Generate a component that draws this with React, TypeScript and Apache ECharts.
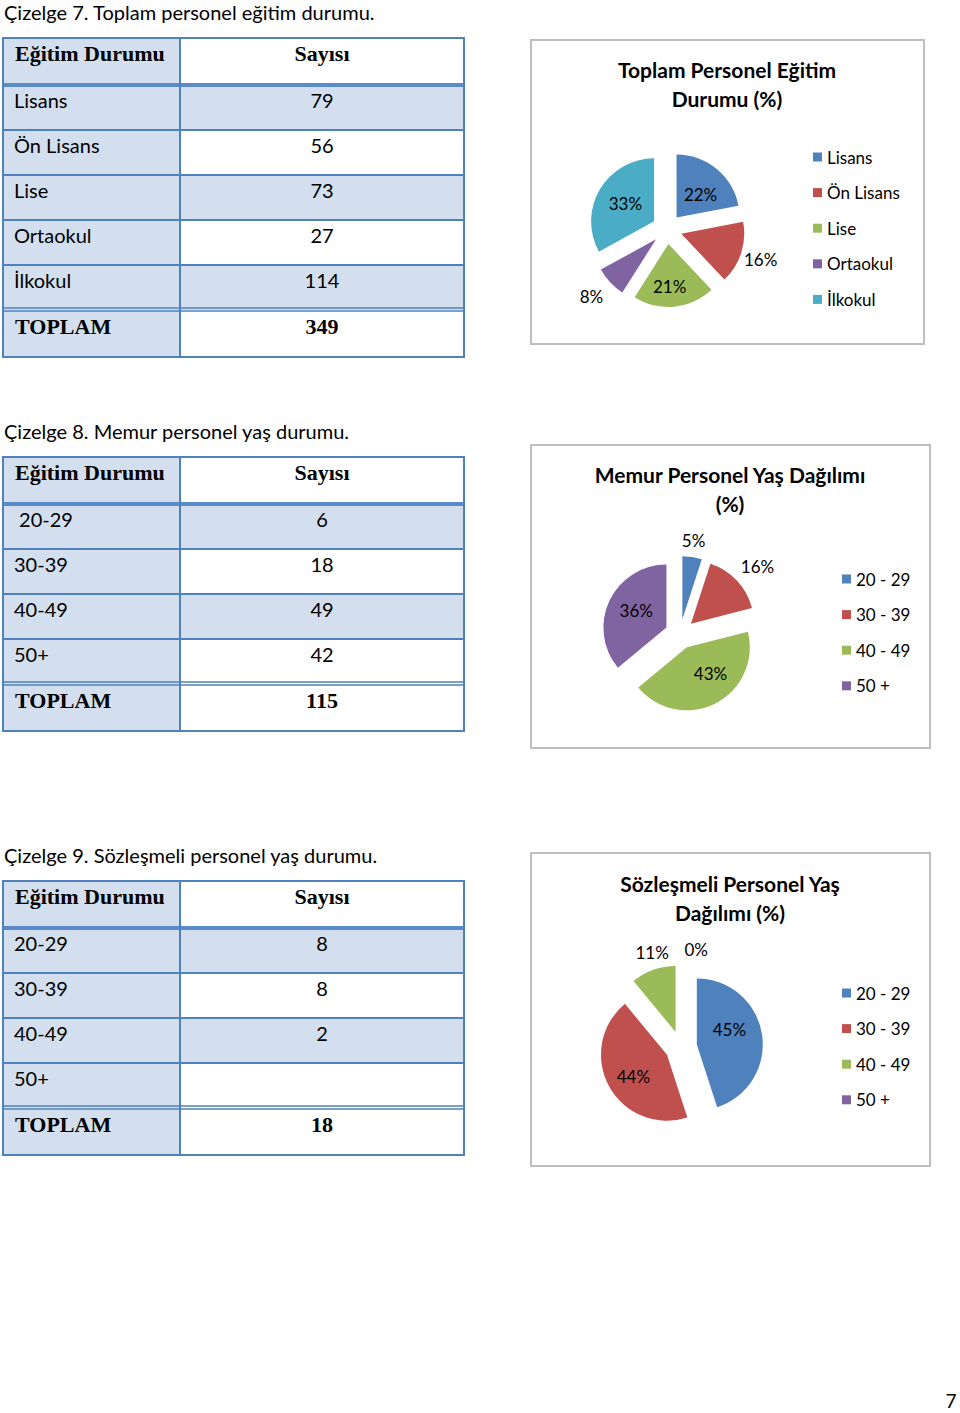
import React, { useEffect, useRef } from "react";
import * as echarts from "echarts";

const FONT = "Lato, 'Open Sans', sans-serif";
const SERIF = "'Liberation Serif', 'DejaVu Serif', serif";
const COLORS = ["#4F81BD", "#C0504D", "#9BBB59", "#8064A2", "#4BACC6"];
const TABLE_BLUE = "#4F81BD";
const SHADE = "#D3DFEE";

const headerLabel = "Eğitim Durumu";
const headerCount = "Sayısı";
const totalLabel = "TOPLAM";

// Çizelge 7
const caption7 = "Çizelge 7. Toplam personel eğitim durumu.";
const educationRows = ["Lisans", "Ön Lisans", "Lise", "Ortaokul", "İlkokul"];
const educationCounts = ["79", "56", "73", "27", "114"];
const educationTotal = "349";
const educationTitle = "Toplam Personel Eğitim\nDurumu (%)";
const educationLegend = ["Lisans", "Ön Lisans", "Lise", "Ortaokul", "İlkokul"];
const educationPercents = [22, 16, 21, 8, 33];
const educationLabelPos = ["inside", "outside", "inside", "outside", "inside"];
const educationLabelNudge = [[2, 4], [-8, 5], [-2, 8], [3, 11], [1, 0]];

// Çizelge 8
const caption8 = "Çizelge 8. Memur personel yaş durumu.";
const memurRows = [" 20-29", "30-39", "40-49", "50+"];
const memurCounts = ["6", "18", "49", "42"];
const memurTotal = "115";
const memurTitle = "Memur Personel Yaş Dağılımı\n(%)";
const ageLegend = ["20 - 29", "30 - 39", "40 - 49", "50 +"];
const memurPercents = [5, 16, 43, 36];
const memurLabelPos = ["outside", "outside", "inside", "inside"];
const memurLabelNudge = [[-18, -13], [-6, -11], [8, -5], [1, -2]];

// Çizelge 9
const caption9 = "Çizelge 9. Sözleşmeli personel yaş durumu.";
const sozRows = ["20-29", "30-39", "40-49", "50+"];
const sozCounts = ["8", "8", "2", ""];
const sozTotal = "18";
const sozTitle = "Sözleşmeli Personel Yaş\nDağılımı (%)";
const sozPercents = [45, 44, 11, 0];
const sozLabelPos = ["inside", "inside", "outside", "outside"];
const sozLabelNudge = [[-3, -9], [-2, 4], [24, -14], [34, -12]];

const pageNumber = "7";

function txt(x: number, y: number, text: string, opts: any = {}) {
  return {
    type: "text",
    x,
    y,
    z: 5,
    style: {
      text,
      fill: "#000",
      fontSize: opts.fontSize ?? 20,
      fontFamily: opts.fontFamily ?? FONT,
      fontWeight: opts.fontWeight ?? "normal",
      textAlign: opts.align ?? "left",
      textVerticalAlign: "middle",
    },
  };
}

function line(x1: number, y1: number, x2: number, y2: number, w = 2, color = TABLE_BLUE) {
  return {
    type: "line",
    z: 3,
    shape: { x1, y1, x2, y2 },
    style: { stroke: color, lineWidth: w },
  };
}

function buildTable(y0: number, captionY: number, caption: string, rows: string[], counts: string[], total: string) {
  const L = 3, M = 180, R = 464;
  const headerH = 47, rowH = 45, totalH = 47;
  const els: any[] = [];
  const rowsTop = y0 + headerH;
  const totalTop = rowsTop + rows.length * rowH;
  const bottom = totalTop + totalH;
  els.push(txt(4, captionY, caption));
  els.push({ type: "rect", z: 1, shape: { x: L, y: y0, width: M - L, height: bottom - y0 }, style: { fill: SHADE } });
  rows.forEach((_, i) => {
    if (i % 2 === 0) {
      els.push({ type: "rect", z: 1, shape: { x: M, y: rowsTop + i * rowH, width: R - M, height: rowH }, style: { fill: SHADE } });
    }
  });
  els.push(line(L - 1, y0, R + 1, y0));
  els.push(line(L, rowsTop, R, rowsTop, 4, "#5B8BC9"));
  for (let i = 1; i < rows.length; i++) els.push(line(L, rowsTop + i * rowH, R, rowsTop + i * rowH));
  els.push(line(L, totalTop - 2, R, totalTop - 2, 1.5));
  els.push(line(L, totalTop + 1, R, totalTop + 1, 1.5));
  els.push(line(L - 1, bottom, R + 1, bottom));
  els.push(line(L, y0, L, bottom));
  els.push(line(M, y0, M, bottom));
  els.push(line(R, y0, R, bottom));
  els.push(txt(15, y0 + 15, headerLabel, { fontFamily: SERIF, fontWeight: "bold", fontSize: 22 }));
  els.push(txt(322, y0 + 15, headerCount, { fontFamily: SERIF, fontWeight: "bold", fontSize: 22, align: "center" }));
  rows.forEach((r, i) => {
    els.push(txt(14, rowsTop + i * rowH + 15, r));
    els.push(txt(322, rowsTop + i * rowH + 15, counts[i], { align: "center" }));
  });
  els.push(txt(15, totalTop + 16, totalLabel, { fontFamily: SERIF, fontWeight: "bold", fontSize: 22 }));
  els.push(txt(322, totalTop + 16, total, { fontFamily: SERIF, fontWeight: "bold", fontSize: 22, align: "center" }));
  return els;
}

function box(x: number, y: number, w: number, h: number) {
  return { type: "rect", z: 0, shape: { x, y, width: w, height: h }, style: { fill: "#fff", stroke: "#BEBEBE", lineWidth: 2 } };
}

function pieSeries(center: number[], radius: number, offset: number, names: string[], values: number[], pos: string[], nudge: number[][]) {
  return {
    type: "pie",
    z: 3,
    center,
    radius,
    startAngle: 90,
    clockwise: true,
    selectedMode: "multiple",
    selectedOffset: offset,
    avoidLabelOverlap: false,
    emphasis: { scale: false },
    itemStyle: { borderWidth: 0 },
    label: {
      show: true,
      position: "outside",
      formatter: (p: any) => Math.round(p.percent) + "%",
      fontSize: 17,
      fontFamily: FONT,
      color: "#000",
    },
    labelLine: { show: false, length: 4, length2: 2 },
    labelLayout: (p: any) => {
      const n = nudge[p.dataIndex] || [0, 0];
      return { dx: n[0], dy: n[1] };
    },
    data: names.map((n, i) => ({
      name: n,
      value: values[i],
      selected: true,
      itemStyle: { color: COLORS[i] },
      label: { position: pos[i] },
    })),
  };
}

function legend(names: string[], left: number, top: number) {
  return {
    data: names,
    orient: "vertical",
    left,
    top,
    itemWidth: 9,
    itemHeight: 9,
    itemGap: 18.6,
    icon: "rect",
    padding: 0,
    selectedMode: false,
    textStyle: { fontSize: 17, fontFamily: FONT, color: "#000" },
  };
}

function title(text: string, x: number, top: number) {
  return {
    text,
    left: x,
    top,
    textAlign: "center",
    padding: 0,
    textStyle: { fontSize: 21, fontWeight: "bold", fontFamily: FONT, color: "#000", lineHeight: 29 },
  };
}

export default function App() {
  const ref = useRef<HTMLDivElement>(null);
  useEffect(() => {
    if (!ref.current) return;
    const chart = echarts.init(ref.current, null, { renderer: "svg" });
    const graphic = [
      box(531, 40, 393, 304),
      box(531, 445, 399, 303),
      box(531, 853, 399, 313),
      ...buildTable(38, 12, caption7, educationRows, educationCounts, educationTotal),
      ...buildTable(457, 431, caption8, memurRows, memurCounts, memurTotal),
      ...buildTable(881, 855, caption9, sozRows, sozCounts, sozTotal),
      txt(951, 1400, pageNumber, { align: "center", fontSize: 19 }),
    ];
    chart.setOption({
      animation: false,
      backgroundColor: "#fff",
      title: [
        title(educationTitle, 727, 55),
        title(memurTitle, 730, 460),
        title(sozTitle, 730, 869),
      ],
      legend: [
        legend(educationLegend, 813, 148.5),
        { ...legend(ageLegend, 842, 570.5), id: "l2" },
        { ...legend(ageLegend, 842, 984.5), id: "l3" },
      ],
      graphic,
      series: [
        pieSeries([667, 229], 63, 15, educationLegend, educationPercents, educationLabelPos, educationLabelNudge),
        pieSeries([680, 634], 63, 15, ageLegend, memurPercents, memurLabelPos, memurLabelNudge),
        pieSeries([681, 1047], 66, 16, ageLegend, sozPercents, sozLabelPos, sozLabelNudge),
      ],
    });
    return () => chart.dispose();
  }, []);
  return (
    <div
      ref={ref}
      style={{ position: "absolute", left: 0, top: 0, width: 960, height: 1413 }}
    />
  );
}
